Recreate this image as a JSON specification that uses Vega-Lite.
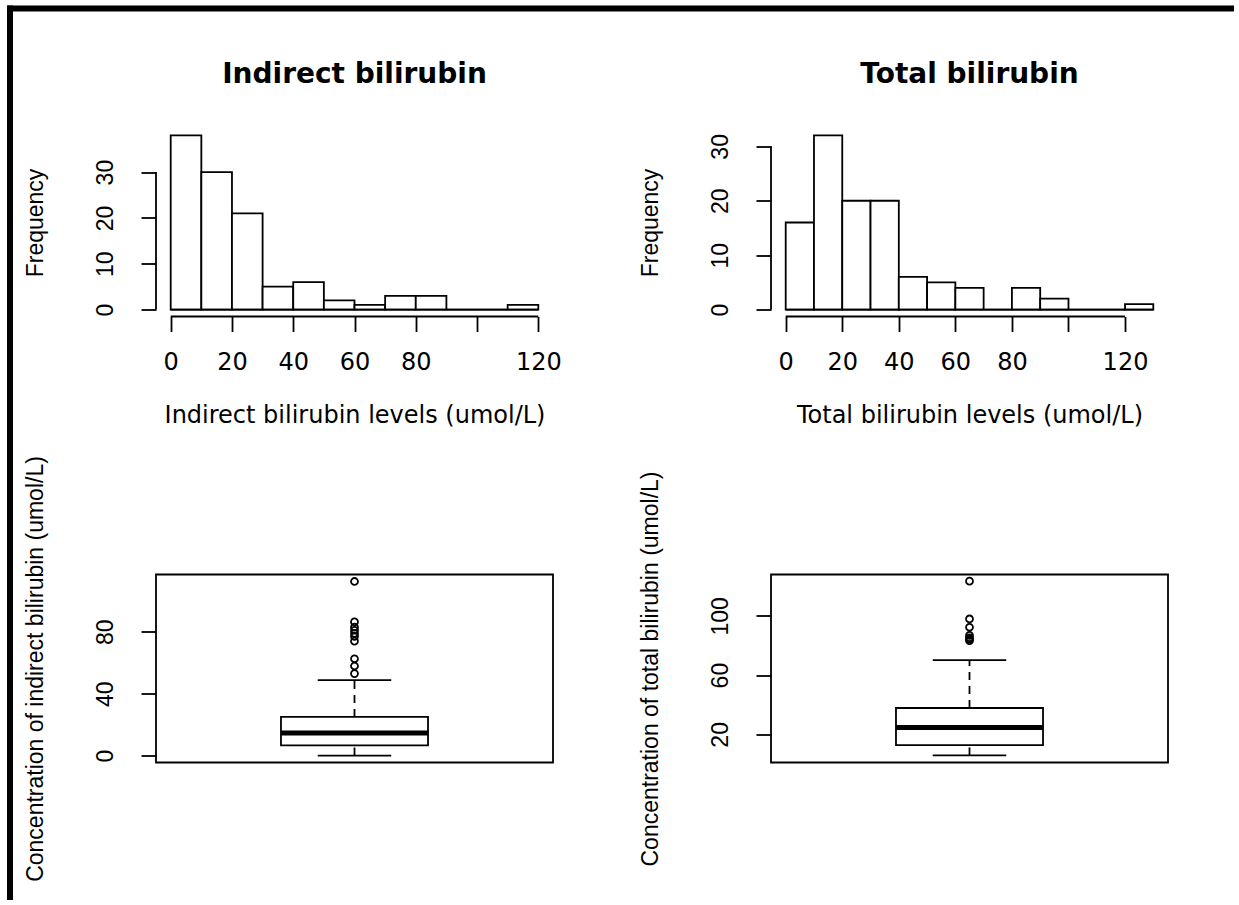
{
  "$schema": "https://vega.github.io/schema/vega-lite/v6.json",
  "background": "white",
  "padding": {"left": 3, "top": 1.5, "right": 0, "bottom": 0},
  "bounds": "flush",
  "columns": 2,
  "spacing": {"row": 258, "column": 218},
  "config": {
    "view": {"stroke": null},
    "axis": {"domain": false, "grid": false, "ticks": true, "tickSize": 15, "tickWidth": 1.8, "tickColor": "black", "labelColor": "black", "titleColor": "black", "labelFlush": false, "labelOverlap": false, "labelBound": false}
  },
  "concat": [
    {
      "width": 397, "height": 188,
      "title": {"text": "Indirect bilirubin", "anchor": "middle", "baseline": "alphabetic", "offset": 18, "font": "DejaVu Sans", "fontSize": 28, "fontWeight": "bold", "color": "black"},
      "layer": [
        {
          "data": {"values": [
            {"bin_start": 0, "bin_end": 10, "count": 38},
            {"bin_start": 10, "bin_end": 20, "count": 30},
            {"bin_start": 20, "bin_end": 30, "count": 21},
            {"bin_start": 30, "bin_end": 40, "count": 5},
            {"bin_start": 40, "bin_end": 50, "count": 6},
            {"bin_start": 50, "bin_end": 60, "count": 2},
            {"bin_start": 60, "bin_end": 70, "count": 1},
            {"bin_start": 70, "bin_end": 80, "count": 3},
            {"bin_start": 80, "bin_end": 90, "count": 3},
            {"bin_start": 90, "bin_end": 100, "count": 0},
            {"bin_start": 100, "bin_end": 110, "count": 0},
            {"bin_start": 110, "bin_end": 120, "count": 1}
          ]},
          "mark": {"type": "rect", "fill": "white", "stroke": "black", "strokeWidth": 1.8},
          "encoding": {
            "x": {"field": "bin_start", "type": "quantitative",
              "scale": {"domain": [-4.8, 124.8], "nice": false, "zero": false},
              "axis": {"values": [0, 20, 40, 60, 80, 100, 120], "labelExpr": "datum.value == 100 ? '' : datum.label",
                "labelFont": "DejaVu Sans", "labelFontSize": 24, "labelAngle": 0, "labelAlign": "center", "labelBaseline": "alphabetic", "labelPadding": 37.8,
                "title": "Indirect bilirubin levels (umol/L)", "titleX": 198.5, "titleY": 106, "titleAngle": 0, "titleAlign": "center", "titleBaseline": "alphabetic",
                "titleFont": "DejaVu Sans", "titleFontSize": 24, "titleFontWeight": "normal"}},
            "x2": {"field": "bin_end"},
            "y": {"field": "count", "type": "quantitative",
              "scale": {"domain": [-1.52, 39.52], "nice": false, "zero": false},
              "axis": {"values": [0, 10, 20, 30],
                "labelFont": "Liberation Sans", "labelFontSize": 23, "labelAngle": -90, "labelAlign": "center", "labelBaseline": "middle", "labelPadding": 36,
                "title": "Frequency", "titleX": -121, "titleY": 94, "titleAngle": -90, "titleAlign": "center", "titleBaseline": "middle",
                "titleFont": "Liberation Sans", "titleFontSize": 23, "titleFontWeight": "normal"}},
            "y2": {"datum": 0}
          }
        },
        {
          "data": {"values": [{}]},
          "mark": {"type": "rule", "color": "black", "strokeWidth": 1.8},
          "encoding": {"x": {"datum": 0}, "x2": {"datum": 120}, "y": {"datum": 0}}
        },
        {
          "data": {"values": [{}]},
          "mark": {"type": "rule", "color": "black", "strokeWidth": 1.8},
          "encoding": {"x": {"datum": 0}, "x2": {"datum": 120}, "y": {"datum": -1.52}}
        },
        {
          "data": {"values": [{}]},
          "mark": {"type": "rule", "color": "black", "strokeWidth": 1.8},
          "encoding": {"x": {"datum": -4.8}, "y": {"datum": 0}, "y2": {"datum": 30}}
        }
      ]
    },
    {
      "width": 397, "height": 188,
      "title": {"text": "Total bilirubin", "anchor": "middle", "baseline": "alphabetic", "offset": 18, "font": "DejaVu Sans", "fontSize": 28, "fontWeight": "bold", "color": "black"},
      "layer": [
        {
          "data": {"values": [
            {"bin_start": 0, "bin_end": 10, "count": 16},
            {"bin_start": 10, "bin_end": 20, "count": 32},
            {"bin_start": 20, "bin_end": 30, "count": 20},
            {"bin_start": 30, "bin_end": 40, "count": 20},
            {"bin_start": 40, "bin_end": 50, "count": 6},
            {"bin_start": 50, "bin_end": 60, "count": 5},
            {"bin_start": 60, "bin_end": 70, "count": 4},
            {"bin_start": 70, "bin_end": 80, "count": 0},
            {"bin_start": 80, "bin_end": 90, "count": 4},
            {"bin_start": 90, "bin_end": 100, "count": 2},
            {"bin_start": 100, "bin_end": 110, "count": 0},
            {"bin_start": 110, "bin_end": 120, "count": 0},
            {"bin_start": 120, "bin_end": 130, "count": 1}
          ]},
          "mark": {"type": "rect", "fill": "white", "stroke": "black", "strokeWidth": 1.8},
          "encoding": {
            "x": {"field": "bin_start", "type": "quantitative",
              "scale": {"domain": [-5.2, 135.2], "nice": false, "zero": false},
              "axis": {"values": [0, 20, 40, 60, 80, 100, 120], "labelExpr": "datum.value == 100 ? '' : datum.label",
                "labelFont": "DejaVu Sans", "labelFontSize": 24, "labelAngle": 0, "labelAlign": "center", "labelBaseline": "alphabetic", "labelPadding": 37.8,
                "title": "Total bilirubin levels (umol/L)", "titleX": 198.5, "titleY": 106, "titleAngle": 0, "titleAlign": "center", "titleBaseline": "alphabetic",
                "titleFont": "DejaVu Sans", "titleFontSize": 24, "titleFontWeight": "normal"}},
            "x2": {"field": "bin_end"},
            "y": {"field": "count", "type": "quantitative",
              "scale": {"domain": [-1.28, 33.28], "nice": false, "zero": false},
              "axis": {"values": [0, 5, 10, 15, 20, 25, 30], "labelExpr": "datum.value % 10 == 0 ? datum.label : ''",
                "labelFont": "Liberation Sans", "labelFontSize": 23, "labelAngle": -90, "labelAlign": "center", "labelBaseline": "middle", "labelPadding": 36,
                "title": "Frequency", "titleX": -121, "titleY": 94, "titleAngle": -90, "titleAlign": "center", "titleBaseline": "middle",
                "titleFont": "Liberation Sans", "titleFontSize": 23, "titleFontWeight": "normal"}},
            "y2": {"datum": 0}
          }
        },
        {
          "data": {"values": [{}]},
          "mark": {"type": "rule", "color": "black", "strokeWidth": 1.8},
          "encoding": {"x": {"datum": 0}, "x2": {"datum": 130}, "y": {"datum": 0}}
        },
        {
          "data": {"values": [{}]},
          "mark": {"type": "rule", "color": "black", "strokeWidth": 1.8},
          "encoding": {"x": {"datum": 0}, "x2": {"datum": 120}, "y": {"datum": -1.28}}
        },
        {
          "data": {"values": [{}]},
          "mark": {"type": "rule", "color": "black", "strokeWidth": 1.8},
          "encoding": {"x": {"datum": -5.2}, "y": {"datum": 0}, "y2": {"datum": 30}}
        }
      ]
    },
    {
      "width": 397, "height": 188,
      "view": {"stroke": "black", "strokeWidth": 1.8},
      "data": {"values": [{"lower_whisker": 0.1, "q1": 6.7, "median": 14.6, "q3": 25.0, "upper_whisker": 48.8}]},
      "layer": [
        {
          "mark": {"type": "rule", "color": "black", "strokeWidth": 1.8, "strokeDash": [8, 6]},
          "encoding": {
            "x": {"datum": 1, "type": "quantitative", "scale": {"domain": [0.46, 1.54], "nice": false, "zero": false}, "axis": null},
            "y": {"field": "q3", "type": "quantitative", "scale": {"domain": [-4.4, 117.0], "nice": false, "zero": false},
              "axis": {"values": [0, 20, 40, 60, 80, 100], "labelExpr": "datum.value % 40 == 0 ? datum.label : ''",
                "labelFont": "Liberation Sans", "labelFontSize": 23, "labelAngle": -90, "labelAlign": "center", "labelBaseline": "middle", "labelPadding": 36,
                "title": "Concentration of indirect bilirubin (umol/L)", "titleX": -121, "titleY": 94, "titleAngle": -90, "titleAlign": "center", "titleBaseline": "middle",
                "titleFont": "Liberation Sans", "titleFontSize": 23, "titleFontWeight": "normal"}},
            "y2": {"field": "upper_whisker"}
          }
        },
        {
          "mark": {"type": "rule", "color": "black", "strokeWidth": 1.8, "strokeDash": [8, 6]},
          "encoding": {"x": {"datum": 1, "axis": null}, "y": {"field": "lower_whisker", "type": "quantitative"}, "y2": {"field": "q1"}}
        },
        {
          "mark": {"type": "rule", "color": "black", "strokeWidth": 1.8},
          "encoding": {"x": {"datum": 0.9, "axis": null}, "x2": {"datum": 1.1}, "y": {"field": "upper_whisker", "type": "quantitative"}}
        },
        {
          "mark": {"type": "rule", "color": "black", "strokeWidth": 1.8},
          "encoding": {"x": {"datum": 0.9, "axis": null}, "x2": {"datum": 1.1}, "y": {"field": "lower_whisker", "type": "quantitative"}}
        },
        {
          "mark": {"type": "rect", "fill": "white", "stroke": "black", "strokeWidth": 1.8},
          "encoding": {"x": {"datum": 0.8, "axis": null}, "x2": {"datum": 1.2}, "y": {"field": "q1", "type": "quantitative"}, "y2": {"field": "q3"}}
        },
        {
          "mark": {"type": "rule", "color": "black", "strokeWidth": 5},
          "encoding": {"x": {"datum": 0.8, "axis": null}, "x2": {"datum": 1.2}, "y": {"field": "median", "type": "quantitative"}}
        },
        {
          "data": {"values": [
            {"outlier": 53.0}, {"outlier": 57.9}, {"outlier": 62.6}, {"outlier": 74.0}, {"outlier": 77.0},
            {"outlier": 79.0}, {"outlier": 81.0}, {"outlier": 83.0}, {"outlier": 86.4}, {"outlier": 112.5}
          ]},
          "mark": {"type": "point", "shape": "circle", "filled": false, "color": "black", "strokeWidth": 1.8, "size": 48, "opacity": 1},
          "encoding": {"x": {"datum": 1, "axis": null}, "y": {"field": "outlier", "type": "quantitative"}}
        },
        {
          "data": {"values": [{}]},
          "mark": {"type": "rule", "color": "black", "strokeWidth": 6},
          "encoding": {"x": {"datum": 0.06282, "axis": null}, "y": {"datum": 484.43}, "y2": {"datum": -93.19}}
        },
        {
          "data": {"values": [{}]},
          "mark": {"type": "rule", "color": "black", "strokeWidth": 6},
          "encoding": {"x": {"datum": 0.05466, "axis": null}, "x2": {"datum": 3.39262}, "y": {"datum": 482.49}}
        }
      ]
    },
    {
      "width": 397, "height": 188,
      "view": {"stroke": "black", "strokeWidth": 1.8},
      "data": {"values": [{"lower_whisker": 5.8, "q1": 12.75, "median": 24.7, "q3": 37.8, "upper_whisker": 70.1}]},
      "layer": [
        {
          "mark": {"type": "rule", "color": "black", "strokeWidth": 1.8, "strokeDash": [8, 6]},
          "encoding": {
            "x": {"datum": 1, "type": "quantitative", "scale": {"domain": [0.46, 1.54], "nice": false, "zero": false}, "axis": null},
            "y": {"field": "q3", "type": "quantitative", "scale": {"domain": [1.0, 127.9], "nice": false, "zero": false},
              "axis": {"values": [20, 40, 60, 80, 100, 120], "labelExpr": "datum.value % 40 == 20 ? datum.label : ''",
                "labelFont": "Liberation Sans", "labelFontSize": 23, "labelAngle": -90, "labelAlign": "center", "labelBaseline": "middle", "labelPadding": 36,
                "title": "Concentration of total bilirubin (umol/L)", "titleX": -121, "titleY": 94, "titleAngle": -90, "titleAlign": "center", "titleBaseline": "middle",
                "titleFont": "Liberation Sans", "titleFontSize": 23, "titleFontWeight": "normal"}},
            "y2": {"field": "upper_whisker"}
          }
        },
        {
          "mark": {"type": "rule", "color": "black", "strokeWidth": 1.8, "strokeDash": [8, 6]},
          "encoding": {"x": {"datum": 1, "axis": null}, "y": {"field": "lower_whisker", "type": "quantitative"}, "y2": {"field": "q1"}}
        },
        {
          "mark": {"type": "rule", "color": "black", "strokeWidth": 1.8},
          "encoding": {"x": {"datum": 0.9, "axis": null}, "x2": {"datum": 1.1}, "y": {"field": "upper_whisker", "type": "quantitative"}}
        },
        {
          "mark": {"type": "rule", "color": "black", "strokeWidth": 1.8},
          "encoding": {"x": {"datum": 0.9, "axis": null}, "x2": {"datum": 1.1}, "y": {"field": "lower_whisker", "type": "quantitative"}}
        },
        {
          "mark": {"type": "rect", "fill": "white", "stroke": "black", "strokeWidth": 1.8},
          "encoding": {"x": {"datum": 0.8, "axis": null}, "x2": {"datum": 1.2}, "y": {"field": "q1", "type": "quantitative"}, "y2": {"field": "q3"}}
        },
        {
          "mark": {"type": "rule", "color": "black", "strokeWidth": 5},
          "encoding": {"x": {"datum": 0.8, "axis": null}, "x2": {"datum": 1.2}, "y": {"field": "median", "type": "quantitative"}}
        },
        {
          "data": {"values": [
            {"outlier": 83.3}, {"outlier": 84.2}, {"outlier": 85.2}, {"outlier": 86.8},
            {"outlier": 92.3}, {"outlier": 97.9}, {"outlier": 123.4}
          ]},
          "mark": {"type": "point", "shape": "circle", "filled": false, "color": "black", "strokeWidth": 1.8, "size": 48, "opacity": 1},
          "encoding": {"x": {"datum": 1, "axis": null}, "y": {"field": "outlier", "type": "quantitative"}}
        }
      ]
    }
  ]
}
